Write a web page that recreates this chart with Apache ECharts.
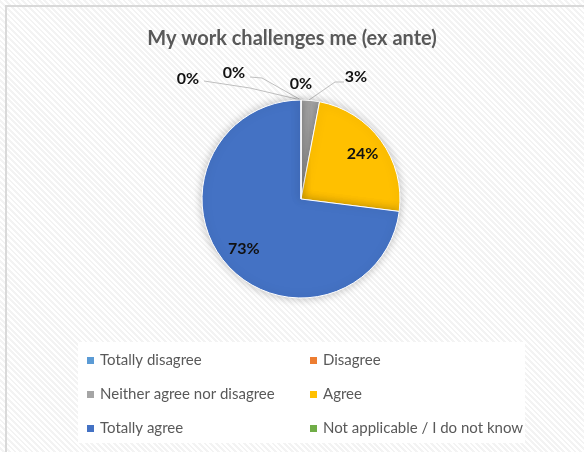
<!DOCTYPE html>
<html>
    <head>
        <meta charset="utf-8">
        <title>My work challenges me (ex ante)</title>
        <script src="https://cdn.jsdelivr.net/npm/echarts@6/dist/echarts.min.js"></script>
        <style>
            html, body { margin: 0; padding: 0; }
            body {
                width: 584px; height: 452px; overflow: hidden; position: relative;
                background: repeating-linear-gradient(45deg, #ffffff 0px, #ffffff 2px, #f3f3f3 2px, #f3f3f3 4px);
            }
            #frame {
                position: absolute; left: 5px; top: 5px; right: 0; bottom: 0;
                border-left: 2px solid #d9d9d9; border-top: 2px solid #d9d9d9;
            }
            #chart1 { position: absolute; left: 0; top: 0; width: 584px; height: 452px; }
        </style>
    </head>
    <body>
        <div id="frame"></div>
        <div id="chart1"></div>
        <script type="text/javascript">
            // 数据
            var answers = ['Totally disagree', 'Disagree', 'Neither agree nor disagree', 'Agree', 'Totally agree', 'Not applicable / I do not know'];
            var shares = [0, 0, 3, 24, 73, 0];
            var colors = ['#5B9BD5', '#ED7D31', '#A5A5A5', '#FFC000', '#4472C4', '#70AD47'];

            var cx = 301, cy = 199, r = 99;
            var font = 'Lato, "Open Sans", sans-serif';

            // 外部标签的位置 (手动摆放, 跟原图一样)
            var outerSpots = {
                0: { x: 188, y: 79, line: [[cx, cy - r], [250, 88], [204, 81]] },
                1: { x: 234, y: 73, line: [[cx, cy - r], [262, 78], [250, 77]] },
                2: { x: 356, y: 77, line: [[cx + 8, cy - r], [335, 82], [344, 82]] },
                5: { x: 301, y: 84, line: null }
            };

            var myChart1 = echarts.init(document.getElementById('chart1'));

            var pieData = answers.map(function (name, i) {
                var inside = shares[i] >= 10;
                return {
                    name: name,
                    value: shares[i],
                    itemStyle: { color: colors[i] },
                    label: { position: inside ? 'inside' : 'outside' },
                    labelLine: { show: !inside && i !== 5 }
                };
            });

            myChart1.setOption({
                animation: false,
                backgroundColor: 'transparent',
                title: {
                    text: 'My work challenges me (ex ante)',
                    left: 'center',
                    top: 24,
                    textStyle: { fontFamily: font, fontSize: 20, fontWeight: 'bold', color: '#595959' }
                },
                legend: {
                    data: answers,
                    left: 78,
                    top: 342,
                    width: 460,
                    padding: [11, 2, 7, 7],
                    backgroundColor: '#ffffff',
                    icon: 'rect',
                    itemWidth: 9,
                    itemHeight: 9,
                    itemGap: 19,
                    selectedMode: false,
                    textStyle: { fontFamily: font, fontSize: 15, lineHeight: 15, width: 189, color: '#595959' }
                },
                series: [
                    {
                        name: 'My work challenges me',
                        type: 'pie',
                        center: [cx, cy],
                        radius: r,
                        startAngle: 90,
                        clockwise: true,
                        avoidLabelOverlap: false,
                        data: pieData,
                        itemStyle: {
                            borderColor: '#ffffff',
                            borderWidth: 1,
                            shadowBlur: 10,
                            shadowColor: 'rgba(0, 0, 0, 0.25)'
                        },
                        label: {
                            formatter: '{c}%',
                            fontFamily: font,
                            fontSize: 16,
                            fontWeight: 'bold',
                            color: '#111111'
                        },
                        labelLine: {
                            lineStyle: { color: '#bfbfbf', width: 1 }
                        },
                        labelLayout: function (params) {
                            var spot = outerSpots[params.dataIndex];
                            if (spot) {
                                var out = { x: spot.x, y: spot.y, align: 'center', verticalAlign: 'middle' };
                                if (spot.line) out.labelLinePoints = spot.line;
                                return out;
                            }
                            // 内部标签往外推一点
                            var lx = params.labelRect.x + params.labelRect.width / 2;
                            var ly = params.labelRect.y + params.labelRect.height / 2;
                            return {
                                x: cx + (lx - cx) * 1.45,
                                y: cy + (ly - cy) * 1.45,
                                align: 'center',
                                verticalAlign: 'middle'
                            };
                        },
                        emphasis: { disabled: true }
                    }
                ]
            });
        </script>
    </body>
</html>
